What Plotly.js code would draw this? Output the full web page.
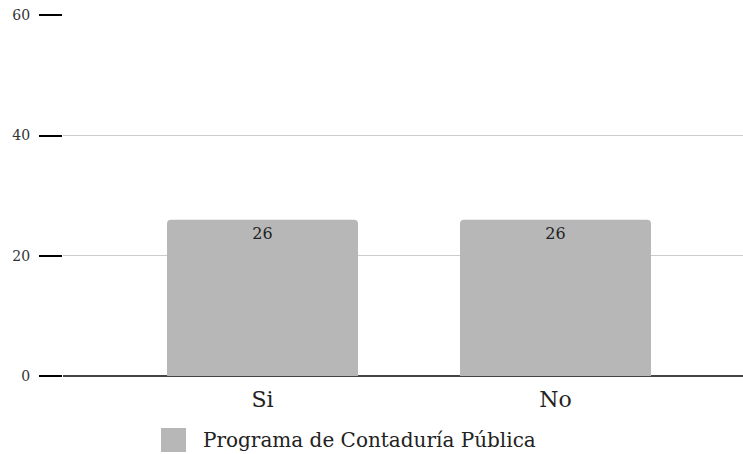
<!DOCTYPE html>
<html>
<head>
<meta charset="utf-8">
<script src="https://cdn.plot.ly/plotly-3.0.1.min.js"></script>
<style>html,body{margin:0;padding:0;background:#fff;}#chart{width:743px;height:454px;}</style>
</head>
<body>
<div id="chart"></div>
<script>
const categories = ["Si", "No"];
const values = [26, 26];
const seriesName = "Programa de Contaduría Pública";
const yTicks = [0, 20, 40, 60];

const FONT = "DejaVu Serif";
const BAR = "#b7b7b7";

const trace = {
  type: "bar",
  x: categories,
  y: values,
  name: seriesName,
  width: 0.652,
  marker: { color: BAR, cornerradius: 4 },
  text: values.map(String),
  textposition: "inside",
  insidetextanchor: "end",
  textfont: { family: FONT, size: 16, color: "#222" },
  showlegend: false,
  hoverinfo: "none"
};

const layout = {
  width: 743,
  height: 454,
  margin: { l: 63, r: 0, t: 15, b: 78 },
  paper_bgcolor: "#fff",
  plot_bgcolor: "#fff",
  font: { family: FONT, color: "#222" },
  xaxis: {
    type: "category",
    range: [-0.681, 1.640],
    showgrid: false,
    zeroline: false,
    showline: false,
    ticks: "",
    ticklabelstandoff: 8,
    tickfont: { family: FONT, size: 22, color: "#222" }
  },
  yaxis: {
    range: [0, 60.05],
    tickvals: yTicks,
    ticktext: yTicks.map(String),
    showgrid: true,
    gridcolor: "#cccccc",
    gridwidth: 1,
    zeroline: true,
    zerolinecolor: "#444",
    zerolinewidth: 2,
    showline: false,
    ticks: "outside",
    ticklen: 23,
    tickwidth: 2,
    tickcolor: "#000",
    ticklabelstandoff: 6,
    tickfont: { family: FONT, size: 14, color: "#333" }
  },
  shapes: [{
    type: "rect", xref: "paper", yref: "paper",
    x0: 0.1441, x1: 0.1809, y0: -0.2105, y1: -0.1440,
    fillcolor: BAR, line: { width: 0 }
  }],
  annotations: [{
    xref: "paper", yref: "paper",
    x: 0.2029, y: -0.1773, xanchor: "left", yanchor: "middle",
    text: seriesName, showarrow: false,
    font: { family: FONT, size: 20, color: "#222" }
  }],
  showlegend: false
};

Plotly.newPlot("chart", [trace], layout, { displayModeBar: false, staticPlot: true });
</script>
</body>
</html>
